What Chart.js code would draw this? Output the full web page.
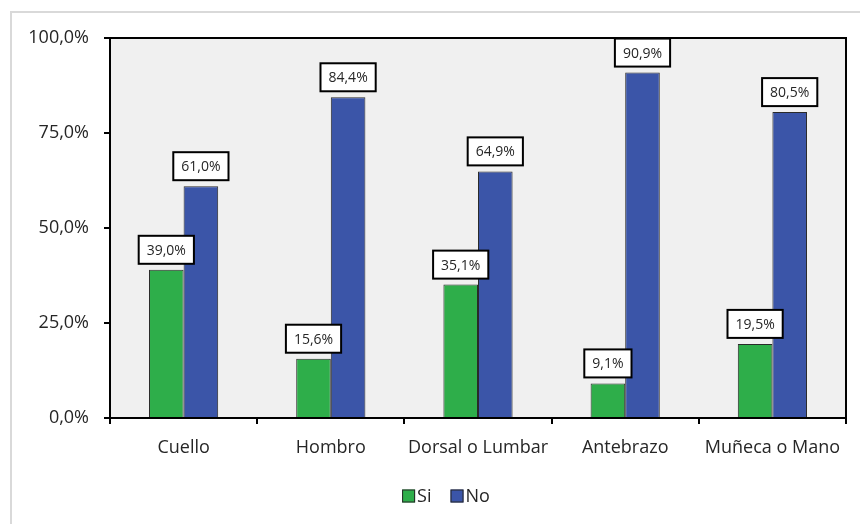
<!DOCTYPE html>
<html>
<head>
<meta charset="utf-8">
<script src="https://cdn.jsdelivr.net/npm/chart.js@4/dist/chart.umd.min.js"></script>
<style>
html,body{margin:0;padding:0;background:#fff;}
#wrap{width:860px;height:524px;}
</style>
</head>
<body>
<div id="wrap"><canvas id="c" width="860" height="524"></canvas></div>
<script>
const categories = ["Cuello", "Hombro", "Dorsal o Lumbar", "Antebrazo", "Muñeca o Mano"];
const siValues = [39.0, 15.6, 35.1, 9.1, 19.5];
const noValues = [61.0, 84.4, 64.9, 90.9, 80.5];
const seriesNames = ["Si", "No"];
const yTicks = [0, 25, 50, 75, 100];

const FONT = "'Open Sans', 'Noto Sans', sans-serif";
const fmt = v => v.toFixed(1).replace('.', ',') + '%';

const bgPlugin = {
  id: 'bg',
  beforeDraw(chart) {
    const ctx = chart.ctx, a = chart.chartArea;
    ctx.save();
    ctx.fillStyle = '#ffffff';
    ctx.fillRect(0, 0, chart.width, chart.height);
    ctx.strokeStyle = '#d9d9d9';
    ctx.lineWidth = 2;
    ctx.strokeRect(11, 12, 900, 600);
    ctx.fillStyle = '#f0f0f0';
    ctx.fillRect(a.left, a.top, a.right - a.left, a.bottom - a.top);
    ctx.restore();
  },
  afterDatasetsDraw(chart) {
    const ctx = chart.ctx, a = chart.chartArea;
    ctx.save();
    ctx.strokeStyle = '#000';
    ctx.lineWidth = 2;
    ctx.strokeRect(a.left, a.top, a.right - a.left, a.bottom - a.top);
    // data labels
    ctx.font = '14px ' + FONT;
    ctx.textAlign = 'center';
    ctx.textBaseline = 'middle';
    chart.data.datasets.forEach((ds, di) => {
      const meta = chart.getDatasetMeta(di);
      meta.data.forEach((el, i) => {
        const txt = fmt(ds.data[i]);
        const w = ctx.measureText(txt).width + 16;
        const h = 28;
        const bottom = el.y - 6;
        const x0 = el.x - w / 2;
        ctx.fillStyle = '#fff';
        ctx.fillRect(x0, bottom - h, w, h);
        ctx.strokeStyle = '#000';
        ctx.lineWidth = 2;
        ctx.strokeRect(x0, bottom - h, w, h);
        ctx.fillStyle = '#262626';
        ctx.fillText(txt, el.x, bottom - h / 2 + 1);
      });
    });
    // legend
    ctx.font = '18px ' + FONT;
    ctx.textAlign = 'left';
    const items = chart.data.datasets.map(d => ({ text: d.label, color: d.backgroundColor, w: 13 + 2 + ctx.measureText(d.label).width }));
    const gap = 19;
    const total = items.reduce((s, it) => s + it.w, 0) + gap * (items.length - 1);
    let x = 446 - total / 2;
    const cy = 496;
    items.forEach(it => {
      ctx.fillStyle = it.color;
      ctx.fillRect(x, cy - 6.5, 13, 13);
      ctx.strokeStyle = '#262626';
      ctx.lineWidth = 1;
      ctx.strokeRect(x + 0.5, cy - 6, 12, 12);
      ctx.fillStyle = '#262626';
      ctx.fillText(it.text, x + 15, cy + 1);
      x += it.w + gap;
    });
    ctx.restore();
  }
};

new Chart(document.getElementById('c'), {
  type: 'bar',
  data: {
    labels: categories,
    datasets: [
      { label: seriesNames[0], data: siValues, backgroundColor: '#2eae4a', borderColor: '#2a2a2a', borderWidth: 1 },
      { label: seriesNames[1], data: noValues, backgroundColor: '#3b55a8', borderColor: '#2a2a2a', borderWidth: 1 }
    ]
  },
  options: {
    responsive: false,
    animation: false,
    devicePixelRatio: 1,
    layout: { padding: { left: 0, right: 14, top: 38, bottom: 47 } },
    datasets: { bar: { categoryPercentage: 0.47, barPercentage: 1.0 } },
    plugins: {
      tooltip: { enabled: false },
      legend: { display: false }
    },
    scales: {
      x: {
        grid: { offset: true, drawOnChartArea: false, color: '#000', lineWidth: 2, tickLength: 6 },
        border: { color: '#000', width: 2 },
        ticks: { color: '#262626', font: { family: FONT, size: 18 }, padding: 13, maxRotation: 0 },
        afterFit(s) { s.height = 59; }
      },
      y: {
        min: 0, max: 100,
        afterBuildTicks(s) { s.ticks = yTicks.map(v => ({ value: v })); },
        grid: { drawOnChartArea: false, color: '#000', lineWidth: 2, tickLength: 6 },
        border: { color: '#000', width: 2 },
        ticks: { color: '#262626', font: { family: FONT, size: 18 }, padding: 15, callback: v => fmt(v) },
        afterFit(s) { s.width = 110; }
      }
    }
  },
  plugins: [bgPlugin]
});
</script>
</body>
</html>
